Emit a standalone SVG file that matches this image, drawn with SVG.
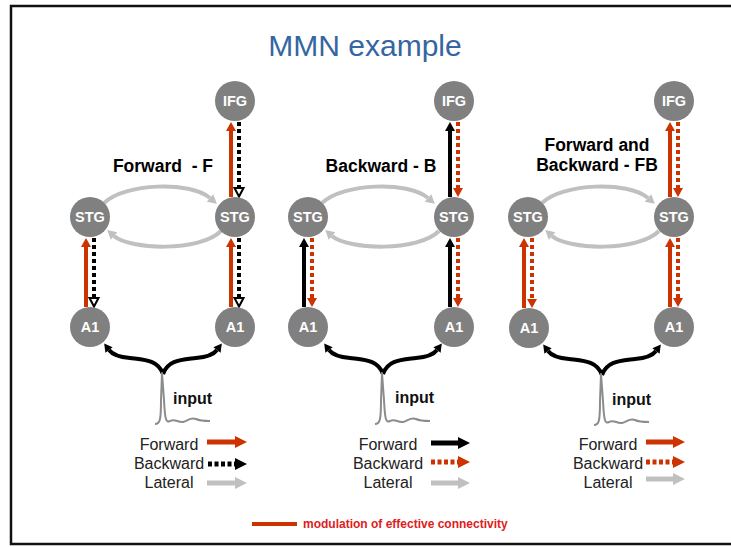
<svg xmlns="http://www.w3.org/2000/svg" width="731" height="547" viewBox="0 0 731 547">
  <style>
    .node circle { fill: #808080; }
    .node text { fill: #ffffff; font-family: "Liberation Sans", Arial, sans-serif; font-weight: bold; font-size: 14.5px; text-anchor: middle; }
    .fr { stroke: #cc3300; stroke-width: 4; fill: none; marker-end: url(#hR); }
    .fk { stroke: #000000; stroke-width: 4; fill: none; marker-end: url(#hK); }
    .bk { stroke: #000000; stroke-width: 4; stroke-dasharray: 4 3; fill: none; marker-end: url(#hKo); }
    .br { stroke: #cc3300; stroke-width: 4; stroke-dasharray: 4 3; fill: none; marker-end: url(#hR); }
    .lat { stroke: #c0c0c0; stroke-width: 4; fill: none; marker-end: url(#hG); }
    .inp { stroke: #000000; stroke-width: 4; fill: none; marker-end: url(#hIn); }
    .spike { stroke: #8c8c8c; stroke-width: 2; fill: none; stroke-linejoin: round; }
    .lab { font-family: "Liberation Sans", Arial, sans-serif; font-weight: bold; font-size: 17.5px; fill: #000; text-anchor: middle; }
    .inlab { font-family: "Liberation Sans", Arial, sans-serif; font-weight: bold; font-size: 16px; fill: #111; }
    .leg { font-family: "Liberation Sans", Arial, sans-serif; font-size: 16px; fill: #222; text-anchor: middle; }
    .lfr { stroke: #cc3300; stroke-width: 5; marker-end: url(#lR); }
    .lfk { stroke: #000000; stroke-width: 5; marker-end: url(#lK); }
    .lbk { stroke: #000000; stroke-width: 5; stroke-dasharray: 4 2.5; marker-end: url(#lK); }
    .lbr { stroke: #cc3300; stroke-width: 5; stroke-dasharray: 4 2.5; marker-end: url(#lR); }
    .llt { stroke: #c0c0c0; stroke-width: 5; marker-end: url(#lG); }
  </style>
  <defs>
    <marker id="hR" markerUnits="userSpaceOnUse" markerWidth="10" markerHeight="10" refX="0" refY="5" orient="auto" overflow="visible">
      <path d="M0,0 L9,5 L0,10 z" fill="#cc3300"/>
    </marker>
    <marker id="hK" markerUnits="userSpaceOnUse" markerWidth="10" markerHeight="10" refX="0" refY="5" orient="auto" overflow="visible">
      <path d="M0,0 L9,5 L0,10 z" fill="#000"/>
    </marker>
    <marker id="hKo" markerUnits="userSpaceOnUse" markerWidth="10" markerHeight="10" refX="0" refY="5" orient="auto" overflow="visible">
      <path d="M0,0.5 L8.5,5 L0,9.5 z" fill="#fff" stroke="#000" stroke-width="2" stroke-linejoin="miter"/>
    </marker>
    <marker id="hG" markerUnits="userSpaceOnUse" markerWidth="10" markerHeight="10" refX="0" refY="5" orient="auto" overflow="visible">
      <path d="M0,0 L9,5 L0,10 z" fill="#c0c0c0"/>
    </marker>
    <marker id="hIn" markerUnits="userSpaceOnUse" markerWidth="9" markerHeight="9" refX="0" refY="4.5" orient="auto" overflow="visible">
      <path d="M0,0 L8,4.5 L0,9 z" fill="#000"/>
    </marker>
    <marker id="lR" markerUnits="userSpaceOnUse" markerWidth="12" markerHeight="12" refX="0" refY="6" orient="auto" overflow="visible">
      <path d="M0,0 L12,6 L0,12 z" fill="#cc3300"/>
    </marker>
    <marker id="lK" markerUnits="userSpaceOnUse" markerWidth="12" markerHeight="12" refX="0" refY="6" orient="auto" overflow="visible">
      <path d="M0,0 L12,6 L0,12 z" fill="#000"/>
    </marker>
    <marker id="lG" markerUnits="userSpaceOnUse" markerWidth="12" markerHeight="12" refX="0" refY="6" orient="auto" overflow="visible">
      <path d="M0,0 L12,6 L0,12 z" fill="#c0c0c0"/>
    </marker>
  </defs>

  <rect x="0" y="0" width="731" height="547" fill="#ffffff"/>
  <rect x="11" y="6" width="740" height="538" fill="none" stroke="#111" stroke-width="2.5"/>

  <text x="365" y="56" font-family="Liberation Sans, Arial, sans-serif" font-size="30" fill="#3566a2" text-anchor="middle">MMN example</text>

  <!-- panel headings -->
  <text class="lab" x="163" y="172" xml:space="preserve">Forward  - F</text>
  <text class="lab" x="381" y="172">Backward - B</text>
  <text class="lab" x="597" y="151">Forward and</text>
  <text class="lab" x="597" y="171">Backward - FB</text>

  <!-- connectors -->
  <g id="connectors">
    <!-- panel F -->
    <path class="lat" d="M104,203 C125,183 190,181 210,198"/>
    <path class="lat" d="M221,231 C200,252 130,250 114,236"/>
    <line class="fr" x1="86" y1="307" x2="86" y2="247"/>
    <line class="fr" x1="231" y1="307" x2="231" y2="247"/>
    <line class="fr" x1="231" y1="197" x2="231" y2="131"/>
    <line class="bk" x1="94" y1="238" x2="94" y2="298"/>
    <line class="bk" x1="239" y1="238" x2="239" y2="298"/>
    <line class="bk" x1="239" y1="122" x2="239" y2="188"/>

    <!-- panel B -->
    <path class="lat" d="M322,203 C343,183 408,181 428,198"/>
    <path class="lat" d="M439,231 C418,252 348,250 332,236"/>
    <line class="fk" x1="304" y1="307" x2="304" y2="247"/>
    <line class="fk" x1="450" y1="307" x2="450" y2="247"/>
    <line class="fk" x1="450" y1="197" x2="450" y2="131"/>
    <line class="br" x1="312" y1="238" x2="312" y2="298"/>
    <line class="br" x1="458" y1="238" x2="458" y2="298"/>
    <line class="br" x1="458" y1="122" x2="458" y2="188"/>

    <!-- panel FB -->
    <path class="lat" d="M542,203 C563,183 628,181 648,198"/>
    <path class="lat" d="M659,231 C638,252 568,250 552,236"/>
    <line class="fr" x1="524" y1="308" x2="524" y2="247"/>
    <line class="fr" x1="670" y1="307" x2="670" y2="247"/>
    <line class="fr" x1="670" y1="197" x2="670" y2="131"/>
    <line class="br" x1="532" y1="238" x2="532" y2="299"/>
    <line class="br" x1="678" y1="238" x2="678" y2="298"/>
    <line class="br" x1="678" y1="122" x2="678" y2="188"/>

    <!-- input branches -->
    <g id="input-F">
      <path class="inp" d="M163,374 C158,360 145,360 130,358 C118,357 112,354 109,350"/>
      <path class="inp" d="M163,374 C168,360 181,360 196,358 C208,357 214,354 217,350"/>
      <path class="spike" d="M155,424 C160,424 161,420 161,400 L162,373 L164,400 C165,420 166,423 170,421 C175,418 178,423 183,422 C188,421 190,417 196,419 C200,421 205,421 210,421"/>
    </g>
    <g id="input-B" transform="translate(220,0)">
      <path class="inp" d="M163,374 C158,360 145,360 130,358 C118,357 112,354 109,350"/>
      <path class="inp" d="M163,374 C168,360 181,360 196,358 C208,357 214,354 217,350"/>
      <path class="spike" d="M155,424 C160,424 161,420 161,400 L162,373 L164,400 C165,420 166,423 170,421 C175,418 178,423 183,422 C188,421 190,417 196,419 C200,421 205,421 210,421"/>
    </g>
    <g id="input-FB" transform="translate(439,1)">
      <path class="inp" d="M163,374 C158,360 145,360 130,358 C118,357 112,354 109,350"/>
      <path class="inp" d="M163,374 C168,360 181,360 196,358 C208,357 214,354 217,350"/>
      <path class="spike" d="M155,424 C160,424 161,420 161,400 L162,373 L164,400 C165,420 166,423 170,421 C175,418 178,423 183,422 C188,421 190,417 196,419 C200,421 205,421 210,421"/>
    </g>
  </g>

  <!-- nodes: panel F -->
  <g id="F-IFG" class="node"><circle cx="235" cy="101" r="20"/><text x="235" y="106">IFG</text></g>
  <g id="F-STG-L" class="node"><circle cx="90" cy="217" r="20"/><text x="90" y="222">STG</text></g>
  <g id="F-STG-R" class="node"><circle cx="235" cy="217" r="20"/><text x="235" y="222">STG</text></g>
  <g id="F-A1-L" class="node"><circle cx="90" cy="327" r="20"/><text x="90" y="332">A1</text></g>
  <g id="F-A1-R" class="node"><circle cx="235" cy="327" r="20"/><text x="235" y="332">A1</text></g>

  <!-- nodes: panel B -->
  <g id="B-IFG" class="node"><circle cx="454" cy="101" r="20"/><text x="454" y="106">IFG</text></g>
  <g id="B-STG-L" class="node"><circle cx="308" cy="217" r="20"/><text x="308" y="222">STG</text></g>
  <g id="B-STG-R" class="node"><circle cx="454" cy="217" r="20"/><text x="454" y="222">STG</text></g>
  <g id="B-A1-L" class="node"><circle cx="308" cy="327" r="20"/><text x="308" y="332">A1</text></g>
  <g id="B-A1-R" class="node"><circle cx="454" cy="327" r="20"/><text x="454" y="332">A1</text></g>

  <!-- nodes: panel FB -->
  <g id="FB-IFG" class="node"><circle cx="674" cy="101" r="20"/><text x="674" y="106">IFG</text></g>
  <g id="FB-STG-L" class="node"><circle cx="528" cy="217" r="20"/><text x="528" y="222">STG</text></g>
  <g id="FB-STG-R" class="node"><circle cx="674" cy="217" r="20"/><text x="674" y="222">STG</text></g>
  <g id="FB-A1-L" class="node"><circle cx="529" cy="328" r="20"/><text x="529" y="333">A1</text></g>
  <g id="FB-A1-R" class="node"><circle cx="674" cy="327" r="20"/><text x="674" y="332">A1</text></g>

  <!-- input labels -->
  <text class="inlab" x="173" y="404">input</text>
  <text class="inlab" x="395" y="403">input</text>
  <text class="inlab" x="612" y="405">input</text>

  <!-- legends -->
  <g id="legend-F">
    <text class="leg" x="169" y="450">Forward</text>
    <text class="leg" x="169" y="469">Backward</text>
    <text class="leg" x="169" y="488">Lateral</text>
    <line class="lfr" x1="207" y1="442" x2="235" y2="442"/>
    <line class="lbk" x1="208" y1="464" x2="235" y2="464"/>
    <line class="llt" x1="207" y1="483" x2="235" y2="483"/>
  </g>
  <g id="legend-B">
    <text class="leg" x="388" y="450">Forward</text>
    <text class="leg" x="388" y="469">Backward</text>
    <text class="leg" x="388" y="488">Lateral</text>
    <line class="lfk" x1="431" y1="443" x2="458" y2="443"/>
    <line class="lbr" x1="431" y1="462" x2="458" y2="462"/>
    <line class="llt" x1="431" y1="483" x2="458" y2="483"/>
  </g>
  <g id="legend-FB">
    <text class="leg" x="608" y="450">Forward</text>
    <text class="leg" x="608" y="469">Backward</text>
    <text class="leg" x="608" y="488">Lateral</text>
    <line class="lfr" x1="646" y1="442" x2="673" y2="442"/>
    <line class="lbr" x1="646" y1="462" x2="673" y2="462"/>
    <line class="llt" x1="646" y1="479" x2="673" y2="479"/>
  </g>

  <!-- footnote -->
  <line x1="252" y1="524" x2="297" y2="524" stroke="#cc3300" stroke-width="4"/>
  <text x="303" y="528" font-family="Liberation Sans, Arial, sans-serif" font-weight="bold" font-size="12" fill="#dd2020">modulation of effective connectivity</text>
</svg>
